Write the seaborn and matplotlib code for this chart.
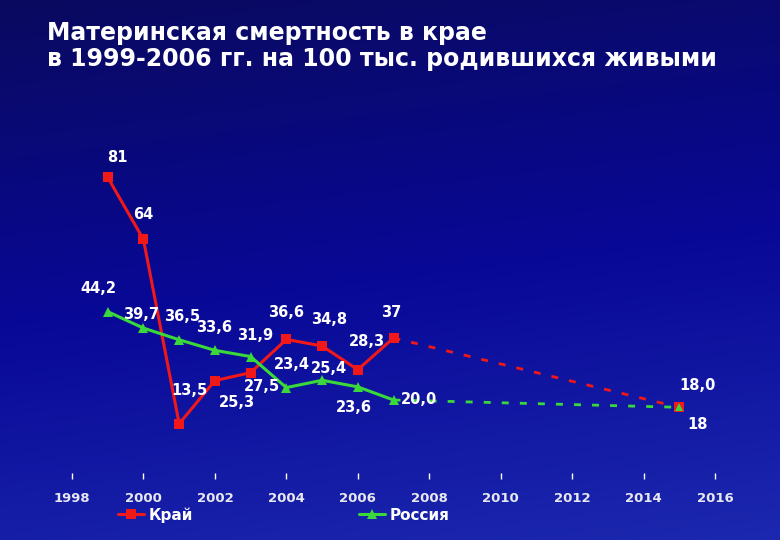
import numpy as np
import pandas as pd
import matplotlib
matplotlib.use("Agg")
import matplotlib.pyplot as plt
import seaborn as sns
from matplotlib.lines import Line2D

# ---- data ----
years = [1999, 2000, 2001, 2002, 2003, 2004, 2005, 2006, 2007]
krai = [81, 64, 13.5, 25.3, 27.5, 36.6, 34.8, 28.3, 37]
russia = [44.2, 39.7, 36.5, 33.6, 31.9, 23.4, 25.4, 23.6, 20.0]
krai_labels = ["81", "64", "13,5", "25,3", "27,5", "36,6", "34,8", "28,3", "37"]
russia_labels = ["44,2", "39,7", "36,5", "33,6", "31,9", "23,4", "25,4", "23,6", "20,0"]
target_year = 2015
krai_target = 18.0
russia_target = 18
krai_target_label = "18,0"
russia_target_label = "18"
xticks = [1998, 2000, 2002, 2004, 2006, 2008, 2010, 2012, 2014, 2016]
title = "Материнская смертность в крае\nв 1999-2006 гг. на 100 тыс. родившихся живыми"
series_names = ["Край", "Россия"]

# label offsets in pixels (style)
krai_off = [(10, -20), (0, -25), (10, -33), (22, 22), (11, 14), (0, -27), (7, -26), (9, -28), (-2, -25)]
russia_off = [(-9, -23), (-2, -14), (3, -23), (-1, -23), (5, -21), (6, -23), (7, -12), (-4, 21), (25, 0)]
krai_t_off = (18, -22)
russia_t_off = (18, 17)

RED = "#f01818"
GREEN = "#3ad83a"

sns.set_theme(style="white")
plt.rcParams["font.family"] = ["DejaVu Sans"]

fig = plt.figure(figsize=(7.8, 5.4), dpi=100)

# background gradient
bg = fig.add_axes([0, 0, 1, 1], zorder=-10)
H, W = 270, 390
yy, xx = np.mgrid[0:H, 0:W]
ty = yy / (H - 1)
tx = xx / (W - 1)
top = np.array([10, 10, 95]) / 255.0
mid = np.array([8, 8, 150]) / 255.0
bot = np.array([28, 40, 175]) / 255.0
t = np.clip(ty * 0.85 + tx * 0.15, 0, 1)[..., None]
img = np.where(t < 0.5, top + (mid - top) * (t / 0.5), mid + (bot - mid) * ((t - 0.5) / 0.5))
bg.imshow(img, aspect="auto", extent=[0, 1, 0, 1], origin="upper")
bg.set_axis_off()

ax = fig.add_axes([72 / 780, 1 - 473 / 540, (715 - 72) / 780, (473 - 108) / 540])
ax.set_facecolor("none")

df = pd.DataFrame({"year": years * 2,
                   "value": krai + russia,
                   "series": [series_names[0]] * len(years) + [series_names[1]] * len(years)})

sns.lineplot(data=df, x="year", y="value", hue="series", style="series",
             palette={series_names[0]: RED, series_names[1]: GREEN},
             markers={series_names[0]: "s", series_names[1]: "^"},
             dashes=False, markersize=7, linewidth=2.2, markeredgewidth=0,
             ax=ax, legend=False)

# forecast dashed segments
sns.lineplot(x=[years[-1], target_year], y=[krai[-1], krai_target], color=RED,
             linestyle=(0, (2.5, 4)), linewidth=2, ax=ax)
sns.lineplot(x=[years[-1], target_year], y=[russia[-1], russia_target], color=GREEN,
             linestyle=(0, (2.5, 4)), linewidth=2, ax=ax)
ax.plot([target_year], [krai_target], marker="s", color=RED, markersize=7, mew=0, linestyle="none")
ax.plot([target_year], [russia_target], marker="^", color=GREEN, markersize=6, mew=0, linestyle="none")

lab_kw = dict(textcoords="offset pixels", ha="center", va="center", color="white",
              fontsize=10.5, fontweight="bold", family="DejaVu Sans")
for x, y, s, o in zip(years, krai, krai_labels, krai_off):
    ax.annotate(s, (x, y), xytext=(o[0], -o[1]), **lab_kw)
for x, y, s, o in zip(years, russia, russia_labels, russia_off):
    ax.annotate(s, (x, y), xytext=(o[0], -o[1]), **lab_kw)
ax.annotate(krai_target_label, (target_year, krai_target), xytext=(krai_t_off[0], -krai_t_off[1]), **lab_kw)
ax.annotate(russia_target_label, (target_year, russia_target), xytext=(russia_t_off[0], -russia_t_off[1]), **lab_kw)

ax.set_xlim(1998, 2016)
ax.set_ylim(0, 100)
ax.set_xticks(xticks)
ax.set_xticklabels([str(v) for v in xticks], color="#e8e8f0", fontsize=9.5, fontweight="bold")
ax.set_yticks([])
ax.tick_params(axis="x", direction="out", length=4, width=1, color="white", pad=10, bottom=True)
for sp in ax.spines.values():
    sp.set_visible(False)
ax.set_xlabel("")
ax.set_ylabel("")

# legend
h1 = Line2D([0], [0], color=RED, marker="s", markersize=7, mew=0, linewidth=2.2)
h2 = Line2D([0], [0], color=GREEN, marker="^", markersize=7, mew=0, linewidth=2.2)
leg = fig.legend([h1, h2], series_names, loc="center left",
                 bbox_to_anchor=(118 / 780, 1 - 515 / 540), ncol=2, frameon=False,
                 borderpad=0, borderaxespad=0, handlelength=1.7, handletextpad=0.3,
                 columnspacing=10.9, prop={"family": "DejaVu Sans", "weight": "bold", "size": 11})
for txt in leg.get_texts():
    txt.set_color("white")

fig.text(47 / 780, 1 - 21 / 540, title, ha="left", va="top", color="white",
         fontsize=17, fontweight="bold", family="DejaVu Sans", linespacing=1.12)

fig.savefig("out.png", dpi=100)
